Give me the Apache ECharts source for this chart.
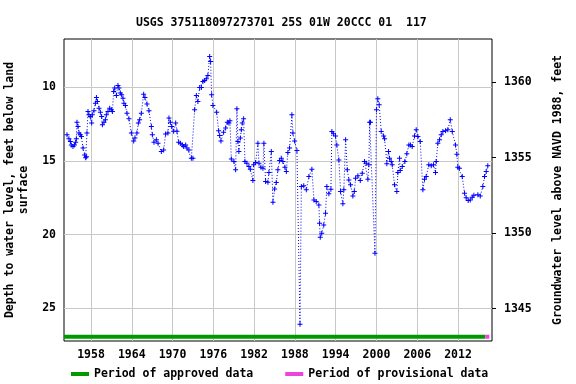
<!DOCTYPE html>
<html>
<head>
<meta charset="utf-8">
<script src="https://cdn.jsdelivr.net/npm/echarts@6/dist/echarts.min.js"></script>
<style>html,body{margin:0;padding:0;background:#fff}#c{width:576px;height:384px}</style>
</head>
<body>
<div id="c"></div>
<script>
var titleText = 'USGS 375118097273701 25S 01W 20CCC 01  117';
var xTicks = [1958, 1964, 1970, 1976, 1982, 1988, 1994, 2000, 2006, 2012];
var leftTicks = [10, 15, 20, 25];
var rightTicks = [1345, 1350, 1355, 1360];
var years = [
1954.47,1954.76,1954.97,1955.10,1955.35,1955.56,1955.75,1955.85,1955.94,1956.09,
1956.24,1956.44,1956.59,1956.83,1957.07,1957.22,1957.32,1957.41,1957.56,1957.70,
1957.91,1958.10,1958.20,1958.44,1958.65,1958.80,1958.94,1959.18,1959.38,1959.57,
1959.68,1959.91,1960.12,1960.26,1960.50,1960.75,1961.00,1961.15,1961.34,1961.49,
1961.74,1961.97,1962.12,1962.32,1962.51,1962.71,1962.85,1963.06,1963.29,1963.59,
1963.94,1964.28,1964.47,1964.76,1964.97,1965.16,1965.41,1965.75,1965.94,1966.24,
1966.53,1966.88,1967.03,1967.27,1967.62,1967.86,1968.35,1968.69,1968.98,1969.32,
1969.47,1969.68,1969.87,1970.16,1970.46,1970.65,1970.90,1971.15,1971.44,1971.63,
1971.93,1972.12,1972.41,1972.77,1973.00,1973.25,1973.50,1973.73,1973.99,1974.24,
1974.47,1974.72,1974.97,1975.20,1975.46,1975.60,1975.75,1975.94,1976.49,1976.78,
1976.93,1977.12,1977.51,1977.81,1978.06,1978.29,1978.44,1978.65,1979.03,1979.28,
1979.47,1979.62,1979.76,1979.97,1980.12,1980.26,1980.46,1980.65,1980.94,1981.24,
1981.44,1981.82,1981.93,1982.22,1982.56,1982.71,1983.00,1983.30,1983.44,1983.69,
1984.03,1984.18,1984.53,1984.77,1985.02,1985.26,1985.50,1985.75,1986.00,1986.24,
1986.53,1986.74,1986.97,1987.22,1987.56,1987.71,1987.96,1988.30,1988.75,1988.95,
1989.30,1989.68,1990.06,1990.50,1990.80,1991.14,1991.53,1991.63,1991.73,1991.95,
1992.25,1992.51,1992.70,1993.00,1993.30,1993.44,1993.69,1993.98,1994.17,1994.47,
1994.72,1995.06,1995.20,1995.46,1995.71,1995.94,1996.19,1996.53,1996.74,1996.93,
1997.27,1997.62,1997.91,1998.25,1998.50,1998.74,1998.88,1999.00,1999.12,1999.78,
2000.00,2000.20,2000.40,2000.70,2001.05,2001.20,2001.53,2001.78,2001.93,2002.17,
2002.32,2002.66,2003.00,2003.15,2003.40,2003.50,2003.80,2004.18,2004.47,2004.77,
2005.00,2005.26,2005.60,2005.85,2006.09,2006.44,2006.83,2007.07,2007.32,2007.70,
2008.06,2008.40,2008.69,2008.79,2009.03,2009.28,2009.53,2009.77,2010.17,2010.50,
2010.86,2011.15,2011.63,2011.83,2011.97,2012.20,2012.62,2012.96,2013.20,2013.50,
2013.80,2014.09,2014.33,2014.92,2015.27,2015.65,2015.90,2016.15,2016.38
];
var depths = [
13.24,13.51,13.69,13.92,14.03,13.92,13.74,13.50,12.38,12.67,
13.12,13.24,13.35,14.14,14.60,14.80,14.73,13.12,11.66,11.88,
12.00,12.44,11.88,11.60,11.09,10.70,10.98,11.43,11.70,12.00,
12.56,12.38,12.22,11.88,11.66,11.43,11.54,11.66,10.30,10.07,
10.57,9.89,10.07,10.41,10.52,10.75,11.09,11.25,11.77,12.15,
13.12,13.65,13.46,13.12,12.44,12.22,11.77,10.48,10.70,11.15,
11.60,12.67,13.24,13.74,13.58,13.81,14.37,14.26,13.19,13.12,
12.10,12.38,12.67,13.00,12.44,13.00,13.74,13.81,13.92,14.03,
13.92,14.14,14.26,14.82,14.82,11.54,10.57,10.98,10.03,10.03,
9.62,9.55,9.44,9.21,7.92,8.26,10.52,11.25,11.70,12.97,
13.29,13.65,13.06,12.78,12.38,12.44,12.29,14.87,15.05,15.61,
11.47,13.69,14.37,13.46,12.90,12.44,12.15,15.05,15.16,15.39,
15.57,16.34,15.27,15.12,13.81,15.16,15.43,15.50,13.81,16.40,
16.45,15.80,14.37,17.81,16.92,16.47,15.61,14.98,14.82,15.05,
15.43,15.73,14.44,14.14,11.88,13.12,13.65,14.30,26.09,16.75,
16.70,16.97,16.07,15.57,17.65,17.76,17.99,19.23,20.18,19.91,
19.35,18.55,16.75,17.24,16.93,13.01,13.17,13.31,13.92,14.94,
17.09,17.92,16.97,13.58,15.61,16.30,16.63,17.38,17.09,16.18,
16.02,16.34,15.84,15.05,15.16,16.25,15.27,12.38,12.38,21.27,
11.54,10.79,11.20,13.01,13.31,13.51,15.20,14.37,14.82,15.05,
15.27,16.63,17.09,15.80,14.82,15.66,15.39,15.05,14.53,13.92,
13.92,14.03,13.31,12.90,13.35,13.69,16.97,16.25,16.07,15.27,
15.34,15.27,15.80,15.05,13.81,13.58,13.24,13.01,12.97,12.90,
12.22,13.01,13.92,14.55,15.43,15.50,16.07,17.20,17.50,17.70,
17.65,17.47,17.33,17.31,17.38,16.75,16.07,15.73,15.34
];
var approvedPeriod = [1954.03, 2016.0];
var provisionalPeriod = [2016.0, 2016.6];
var periodBarDepth = 26.93;

var FONT = 'DejaVu Sans Mono';
var txt = {fontFamily: FONT, fontWeight: 'bold', fontSize: 11.5, color: '#000'};
var plain = function (v) { return String(v); };
var chart = echarts.init(document.getElementById('c'), null, {renderer: 'canvas'});
var series = years.map(function (y, i) { return [y, depths[i]]; });
chart.setOption({
  animation: false,
  backgroundColor: '#fff',
  title: {text: titleText, left: 131, top: 12, textStyle: Object.assign({}, txt)},
  grid: {left: 64, top: 39, right: 84, bottom: 43, containLabel: false, outerBoundsMode: 'none',
         show: true, borderColor: '#000', borderWidth: 1, backgroundColor: 'transparent'},
  legend: {
    data: ['Period of approved data', 'Period of provisional data'],
    left: 66, top: 363, icon: 'rect', itemWidth: 18, itemHeight: 4, itemGap: 32,
    textStyle: Object.assign({}, txt), selectedMode: false
  },
  xAxis: {
    type: 'value', min: 1954.03, max: 2017.0,
    axisLine: {show: false},
    axisTick: {show: false, customValues: xTicks},
    axisLabel: Object.assign({customValues: xTicks, margin: 8, formatter: plain}, txt),
    splitLine: {show: true, lineStyle: {color: '#c8c8c8', width: 1}}
  },
  yAxis: [{
    type: 'value', inverse: true, min: 6.74, max: 27.22, position: 'left',
    name: 'Depth to water level, feet below land\nsurface',
    nameLocation: 'middle', nameGap: 32, nameRotate: 90,
    nameTextStyle: Object.assign({lineHeight: 14}, txt),
    axisLine: {show: false},
    axisTick: {show: false, customValues: leftTicks},
    axisLabel: Object.assign({customValues: leftTicks, margin: 8, formatter: plain}, txt),
    splitLine: {show: true, lineStyle: {color: '#c8c8c8', width: 1}}
  }, {
    type: 'value', min: 1342.85, max: 1362.85, position: 'right',
    name: 'Groundwater level above NAVD 1988, feet',
    nameLocation: 'middle', nameGap: 60, nameRotate: 90,
    nameTextStyle: Object.assign({}, txt),
    axisLine: {show: false},
    axisTick: {show: true, inside: false, length: 4, customValues: rightTicks, lineStyle: {color: '#000'}},
    axisLabel: Object.assign({customValues: rightTicks, margin: 12, formatter: plain}, txt),
    splitLine: {show: false}
  }],
  series: [{
    type: 'line', name: 'levels', data: series, yAxisIndex: 0,
    symbol: 'path://M2,0L3,0L3,2L5,2L5,3L3,3L3,5L2,5L2,3L0,3L0,2L2,2Z',
    symbolSize: 5, showSymbol: true,
    itemStyle: {color: '#0000ff'},
    lineStyle: {color: '#0000ff', width: 1, type: [1, 2]},
    z: 3
  }, {
    type: 'line', name: 'Period of approved data', yAxisIndex: 0,
    data: approvedPeriod.map(function (v) { return [v, periodBarDepth]; }),
    symbol: 'none', itemStyle: {color: '#009a00'},
    lineStyle: {color: '#009a00', width: 4, cap: 'butt'}, z: 2
  }, {
    type: 'line', name: 'Period of provisional data', yAxisIndex: 0,
    data: provisionalPeriod.map(function (v) { return [v, periodBarDepth]; }),
    symbol: 'none', itemStyle: {color: '#ee44dd'},
    lineStyle: {color: '#ee44dd', width: 4, cap: 'butt'}, z: 2
  }]
});
</script>
</body>
</html>
